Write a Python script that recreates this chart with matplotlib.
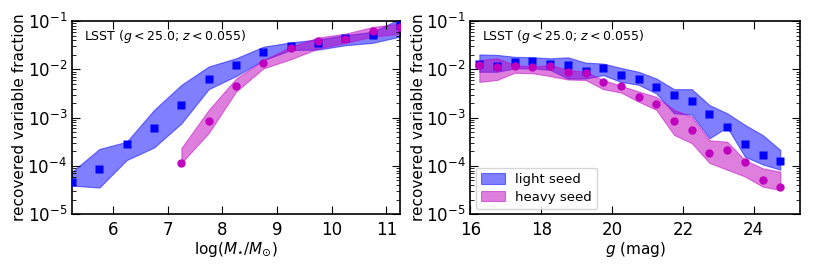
import numpy as np
import matplotlib
matplotlib.use("Agg")
import matplotlib.pyplot as plt
from matplotlib.ticker import LogLocator, NullFormatter

# ---- Left panel data: stellar mass ----
mass = [5.25, 5.75, 6.25, 6.75, 7.25, 7.75, 8.25, 8.75, 9.25, 9.75, 10.25, 10.75, 11.25]
light_mass_val = [-4.34, -4.07, -3.55, -3.21, -2.745, -2.20, -1.91, -1.65, -1.51, -1.45, -1.34, -1.29, -1.08]
light_mass_hi = [-4.12, -3.65, -3.50, -2.84, -2.32, -1.94, -1.77, -1.53, -1.44, -1.38, -1.29, -1.22, -0.95]
light_mass_lo = [-4.41, -4.45, -3.88, -3.62, -3.12, -2.41, -2.14, -1.81, -1.60, -1.59, -1.50, -1.45, -1.32]

mass_h = [7.25, 7.75, 8.25, 8.75, 9.25, 9.75, 10.25, 10.75, 11.25]
heavy_mass_val = [-3.94, -3.08, -2.34, -1.86, -1.55, -1.41, -1.36, -1.21, -1.12]
heavy_mass_hi = [-3.63, -2.84, -2.19, -1.81, -1.53, -1.34, -1.26, -1.12, -1.05]
heavy_mass_lo = [-3.94, -3.32, -2.46, -1.98, -1.79, -1.57, -1.45, -1.32, -1.26]

# ---- Right panel data: g magnitude ----
gmag = [16.25, 16.75, 17.25, 17.75, 18.25, 18.75, 19.25, 19.75, 20.25, 20.75,
        21.25, 21.75, 22.25, 22.75, 23.25, 23.75, 24.25, 24.75]
light_g_val = [-1.88, -1.94, -1.855, -1.83, -1.88, -1.91, -2.03, -1.97, -2.12, -2.19,
               -2.37, -2.53, -2.65, -2.93, -3.19, -3.54, -3.77, -3.89]
light_g_hi = [-1.69, -1.70, -1.74, -1.75, -1.77, -1.75, -1.86, -1.88, -1.97, -2.05,
              -2.19, -2.41, -2.41, -2.74, -2.91, -3.15, -3.36, -3.67]
light_g_lo = [-2.05, -2.05, -1.98, -1.98, -2.01, -2.19, -2.19, -2.12, -2.26, -2.32,
              -2.50, -2.91, -2.94, -3.43, -3.20, -3.81, -3.97, -4.08]
heavy_g_val = [-1.91, -1.96, -1.94, -1.96, -1.93, -2.05, -2.08, -2.26, -2.34, -2.57,
               -2.72, -3.06, -3.26, -3.74, -3.68, -3.91, -4.30, -4.43]
heavy_g_hi = [-1.81, -1.77, -1.91, -1.94, -1.91, -2.01, -2.05, -2.22, -2.34, -2.46,
              -2.57, -2.84, -2.98, -3.47, -3.50, -3.88, -4.05, -4.12]
heavy_g_lo = [-2.26, -2.22, -2.07, -2.08, -2.14, -2.21, -2.22, -2.41, -2.48, -2.67,
              -2.84, -3.36, -3.53, -3.94, -4.08, -4.22, -4.43, -4.50]

label_text = r"LSST ($g<25.0$; $z<0.055$)"
ylabel = "recovered variable fraction"

plt.rcParams['font.family'] = ['DejaVu Sans']
plt.rcParams['mathtext.fontset'] = 'dejavusans'

fig = plt.figure(figsize=(8.14, 2.71), dpi=100)
ax1 = fig.add_axes([0.0885, 0.210, 0.403, 0.712])
ax2 = fig.add_axes([0.578, 0.210, 0.4045, 0.712])

p = lambda a: 10 ** np.asarray(a)

def style(ax):
    ax.set_yscale('log')
    ax.set_ylim(1e-5, 1e-1)
    ax.tick_params(which='both', direction='in', top=True, right=True, labelsize=12)
    ax.tick_params(which='major', length=6, width=0.8)
    ax.tick_params(which='minor', length=3, width=0.6)
    ax.tick_params(axis='x', pad=5)
    ax.yaxis.set_minor_locator(LogLocator(base=10, subs=np.arange(2, 10), numticks=20))
    ax.yaxis.set_minor_formatter(NullFormatter())
    for s in ax.spines.values():
        s.set_linewidth(1.2)
    ax.set_ylabel(ylabel, fontsize=11, labelpad=0)
    ax.text(0.035, 0.965, label_text, transform=ax.transAxes, fontsize=9, va='top', ha='left')

# Left
ax1.fill_between(mass, p(light_mass_lo), p(light_mass_hi), facecolor='blue', edgecolor='blue', alpha=0.5, lw=0.8)
ax1.fill_between(mass_h, p(heavy_mass_lo), p(heavy_mass_hi), facecolor='m', edgecolor='m', alpha=0.5, lw=0.8)
ax1.plot(mass, p(light_mass_val), 's', color='blue', ms=6, mec='none', zorder=3)
ax1.plot(mass_h, p(heavy_mass_val), 'o', color='m', ms=6, mec='none', zorder=3)
ax1.set_xlim(5.25, 11.25)
ax1.set_xticks([6, 7, 8, 9, 10, 11])
ax1.set_xlabel(r"$\log(M_{\star}/M_{\odot})$", fontsize=11, labelpad=1)
style(ax1)

# Right
hl = ax2.fill_between(gmag, p(light_g_lo), p(light_g_hi), facecolor='blue', edgecolor='blue', alpha=0.5, lw=0.8, label='light seed')
hh = ax2.fill_between(gmag, p(heavy_g_lo), p(heavy_g_hi), facecolor='m', edgecolor='m', alpha=0.5, lw=0.8, label='heavy seed')
ax2.plot(gmag, p(light_g_val), 's', color='blue', ms=6, mec='none', zorder=3)
ax2.plot(gmag, p(heavy_g_val), 'o', color='m', ms=6, mec='none', zorder=3)
ax2.set_xlim(16, 25.3)
ax2.set_xticks([16, 18, 20, 22, 24])
ax2.set_xlabel(r"$g$ (mag)", fontsize=11, labelpad=1)
style(ax2)
ax2.legend(handles=[hl, hh], loc='lower left', fontsize=9.5, frameon=True, fancybox=True,
           edgecolor='0.8', borderpad=0.4, handlelength=1.8, handleheight=0.9,
           handletextpad=0.8, labelspacing=0.35, borderaxespad=0.4)

fig.savefig('out.png', dpi=100)
